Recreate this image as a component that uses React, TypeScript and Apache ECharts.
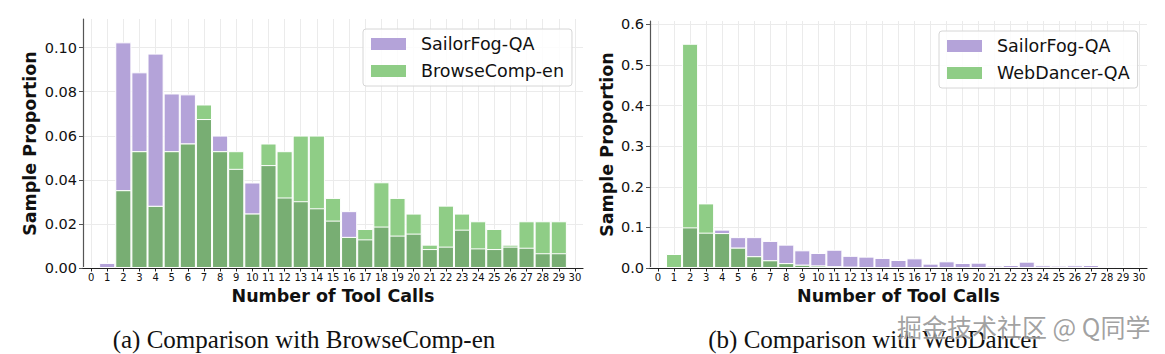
import React, { useEffect, useRef } from 'react';
import * as echarts from 'echarts';

// Bin labels (number of tool calls)
const toolCalls = ['0','1','2','3','4','5','6','7','8','9','10','11','12','13','14','15','16','17','18','19','20','21','22','23','24','25','26','27','28','29','30'];

// (a) SailorFog-QA vs BrowseComp-en
const sailorFogA = [0, 0.0023, 0.1024, 0.0888, 0.0973, 0.0792, 0.0788, 0.0676, 0.0601, 0.045, 0.0388, 0.0467, 0.032, 0.0303, 0.0271, 0.0215, 0.0258, 0.013, 0.0188, 0.0147, 0.0156, 0.0086, 0.0097, 0.0174, 0.0089, 0.0086, 0.0097, 0.0092, 0.0067, 0.0067, 0];
const browseCompEn = [0, 0, 0.0353, 0.053, 0.0282, 0.053, 0.0565, 0.0742, 0.053, 0.053, 0.0247, 0.0565, 0.053, 0.0601, 0.0601, 0.0318, 0.0141, 0.0177, 0.0389, 0.0318, 0.0247, 0.0106, 0.0283, 0.0247, 0.0212, 0.0177, 0.0106, 0.0212, 0.0212, 0.0212, 0];

// (b) SailorFog-QA vs WebDancer-QA
const sailorFogB = [0, 0, 0.100, 0.087, 0.0945, 0.076, 0.076, 0.0666, 0.0575, 0.0435, 0.037, 0.045, 0.030, 0.028, 0.0247, 0.0197, 0.0238, 0.0107, 0.0164, 0.0123, 0.0131, 0.0058, 0.0074, 0.0156, 0.0066, 0.0058, 0.0066, 0.0074, 0.004, 0.005, 0];
const webDancerQA = [0, 0.0345, 0.552, 0.159, 0.086, 0.05, 0.029, 0.019, 0.012, 0.008, 0.006, 0.004, 0.003, 0.002, 0.0015, 0.001, 0.001, 0.0008, 0.0006, 0.0005, 0.0004, 0, 0, 0, 0, 0, 0, 0, 0, 0, 0];

const captions = ['(a) Comparison with BrowseComp-en', '(b) Comparison with WebDancer'];
const watermark = '掘金技术社区 @ Q同学';

const FONT = 'DejaVu Sans';
const PURPLE = '#b4a3d9';
const GREEN = '#8fcd86';
const OVERLAP = '#78ae73';
const GRIDLINE = '#ebebeb';

function buildOption() {
  const panels = [
    { left: 83, top: 19, width: 500, height: 249, yMax: 0.113, yInterval: 0.02, digits: 2, nameGap: 44,
      a: sailorFogA, b: browseCompEn, bName: 'BrowseComp-en', legendLeft: 363, legendTop: 29 },
    { left: 650, top: 21, width: 497, height: 247, yMax: 0.608, yInterval: 0.1, digits: 1, nameGap: 34,
      a: sailorFogB, b: webDancerQA, bName: 'WebDancer-QA', legendLeft: 939, legendTop: 31 },
  ];

  const grid: any[] = [];
  const xAxis: any[] = [];
  const yAxis: any[] = [];
  const series: any[] = [];
  const legend: any[] = [];
  const nameStyle = { fontFamily: FONT, fontWeight: 'bold', fontSize: 17.5, color: '#111' };

  panels.forEach((p, i) => {
    grid.push({ left: p.left, top: p.top, width: p.width, height: p.height, containLabel: false });
    // bar axis with vertical grid lines (below bars)
    xAxis.push({
      type: 'category', gridIndex: i, data: toolCalls, position: 'bottom', boundaryGap: true,
      axisLine: { show: false }, axisTick: { show: false }, axisLabel: { show: false },
      splitLine: { show: true, interval: 0, alignWithLabel: true, lineStyle: { color: GRIDLINE, width: 1 } },
    });
    yAxis.push({
      type: 'value', gridIndex: i, min: 0, max: p.yMax, interval: p.yInterval,
      name: 'Sample Proportion', nameLocation: 'middle', nameGap: p.nameGap, nameRotate: 90,
      nameTextStyle: nameStyle,
      axisLine: { show: true, lineStyle: { color: '#555', width: 1.2 } },
      axisTick: { show: true, length: 4, lineStyle: { color: '#555' } },
      axisLabel: {
        fontFamily: FONT, fontSize: 14.5, color: '#111', margin: 6, showMaxLabel: false,
        formatter: (v: number) => {
          const k = v / p.yInterval;
          return Math.abs(k - Math.round(k)) < 1e-6 ? v.toFixed(p.digits) : '';
        },
      },
      splitLine: { show: true, showMaxLine: false, lineStyle: { color: GRIDLINE, width: 1 } },
    });
    const overlap = p.a.map((v, j) => Math.min(v, p.b[j]));
    const common = {
      type: 'bar', xAxisIndex: i, yAxisIndex: i, barWidth: '100%', barGap: '-100%',
    };
    series.push({ ...common, name: 'SailorFog-QA', data: p.a, z: 2,
      itemStyle: { color: PURPLE, borderColor: '#fff', borderWidth: 1 } });
    series.push({ ...common, name: p.bName, data: p.b, z: 3,
      itemStyle: { color: GREEN, borderColor: '#fff', borderWidth: 1 } });
    series.push({ ...common, name: 'overlap-' + i, data: overlap, z: 4,
      itemStyle: { color: OVERLAP, borderColor: '#fff', borderWidth: 1 } });
    legend.push({
      data: ['SailorFog-QA', p.bName], orient: 'vertical', left: p.legendLeft, top: p.legendTop,
      padding: [6, 8, 6, 8], itemWidth: 35, itemHeight: 12, itemGap: 9, icon: 'rect',
      borderColor: '#d6d6d6', borderWidth: 1, borderRadius: 3, backgroundColor: 'rgba(255,255,255,0.85)',
      textStyle: { fontFamily: FONT, fontSize: 17.5, color: '#111', lineHeight: 18, padding: [0, 0, 0, 10] },
      itemStyle: { borderWidth: 0 }, selectedMode: false,
    });
  });

  // Axes drawn above the bars (axis line, ticks, labels, name)
  panels.forEach((p, i) => {
    xAxis.push({
      type: 'category', gridIndex: i, data: toolCalls, position: 'bottom', boundaryGap: true, z: 10,
      name: 'Number of Tool Calls', nameLocation: 'middle', nameGap: 18, nameTextStyle: nameStyle,
      axisLine: { show: true, lineStyle: { color: '#222', width: 1.2 } },
      axisTick: { show: true, alignWithLabel: true, interval: 0, length: 3.5, lineStyle: { color: '#222' } },
      axisLabel: { interval: 0, fontFamily: FONT, fontSize: 10, color: '#111', margin: 4 },
      splitLine: { show: false },
    });
  });

  const graphic: any[] = [
    { type: 'text', x: 304, y: 339, z: 20,
      style: { text: captions[0], fill: '#111', fontFamily: 'Liberation Serif', fontSize: 25, align: 'center', verticalAlign: 'middle' } },
    { type: 'text', x: 874, y: 339, z: 20,
      style: { text: captions[1], fill: '#111', fontFamily: 'Liberation Serif', fontSize: 25, align: 'center', verticalAlign: 'middle' } },
    { type: 'text', x: 897, y: 326, z: 30,
      style: { text: watermark, fill: 'rgba(145,145,145,0.85)', stroke: 'rgba(255,255,255,0.7)', lineWidth: 1,
        fontFamily: 'Noto Sans CJK SC', fontSize: 25, align: 'left', verticalAlign: 'middle' } },
  ];

  return { animation: false, backgroundColor: '#fff', grid, xAxis, yAxis, series, legend, graphic };
}

export default function App() {
  const ref = useRef<HTMLDivElement>(null);
  useEffect(() => {
    if (!ref.current) return;
    const chart = echarts.init(ref.current, null, { renderer: 'svg' });
    chart.setOption(buildOption() as any);
    return () => chart.dispose();
  }, []);
  return <div ref={ref} style={{ position: 'absolute', left: 0, top: 0, width: 1165, height: 354 }} />;
}
